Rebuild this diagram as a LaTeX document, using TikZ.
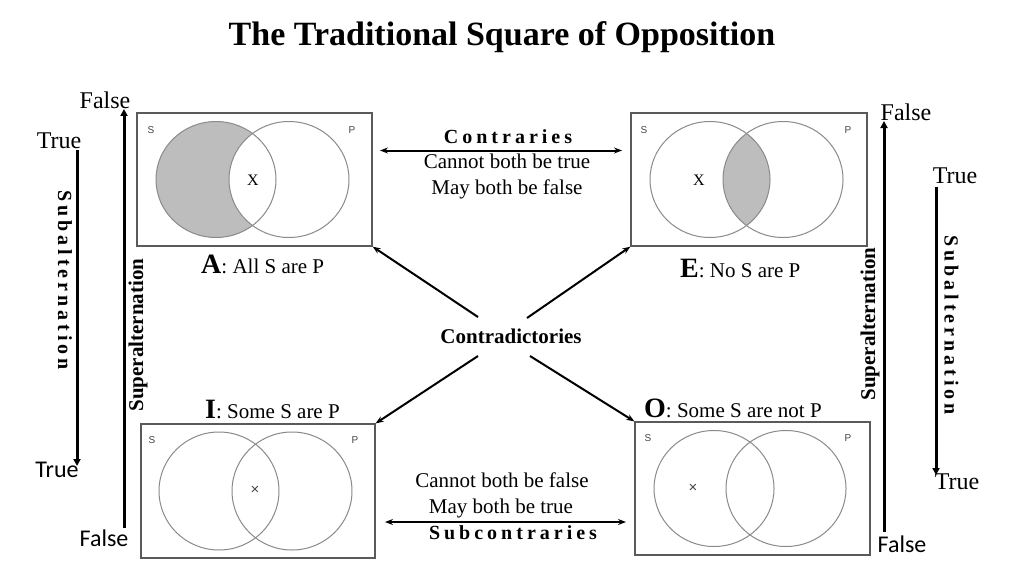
\documentclass[tikz,border=0pt]{standalone}
\usepackage{fontspec}
\setmainfont{Liberation Serif}
\newfontfamily\carl{Carlito}
\newfontfamily\arialf{Liberation Sans}
\usetikzlibrary{arrows.meta}
\makeatletter
\newcommand\spreadtext[1]{\@tfor\sp@c:=#1\do{\sp@c\hskip4pt}\unskip}
\makeatother
\definecolor{boxc}{HTML}{5A5A5A}
\definecolor{circc}{HTML}{8A8A8A}
\definecolor{shadec}{HTML}{BDBDBD}
\definecolor{slc}{HTML}{444444}
\tikzset{
  vbox/.style={draw=boxc, line width=1.2pt, minimum width=235pt, minimum height=133pt, inner sep=0pt, fill=white},
  circ/.style={draw=circc, line width=1pt},
  sp/.style={font=\arialf\fontsize{10}{10}\selectfont, text=slc, inner sep=0pt},
  bigx/.style={font=\fontsize{16}{16}\selectfont, inner sep=0pt},
  smallx/.style={font=\arialf\fontsize{15}{15}\selectfont, text=slc, inner sep=0pt},
  txt/.style={font=\fontsize{21}{25}\selectfont, inner sep=0pt, anchor=base},
  lbl/.style={font=\fontsize{21}{25}\selectfont, inner sep=0pt, anchor=base west},
  tf/.style={font=\fontsize{24}{28}\selectfont, inner sep=0pt, anchor=base},
  tfs/.style={font=\carl\fontsize{24}{28}\selectfont, inner sep=0pt, anchor=base},
  spaced/.style={font=\bfseries\fontsize{20}{24}\selectfont, inner sep=0pt},
  supert/.style={font=\bfseries\fontsize{21}{25}\selectfont, inner sep=0pt},
  dbl/.style={line width=2pt, {Stealth[length=8pt,width=6pt]}-{Stealth[length=8pt,width=6pt]}},
  carrow/.style={line width=2pt, -{Stealth[length=8pt,width=6pt]}},
  varrow/.style={line width=3pt, -{Triangle[length=7pt,width=7pt]}}
}
\begin{document}
\begin{tikzpicture}[x=1pt,y=-1pt]
\useasboundingbox[fill=white] (0,0) rectangle (1024,575);

\node[font=\bfseries\fontsize{34}{40}\selectfont, inner sep=0pt, anchor=base] (title) at (502,46) {The Traditional Square of Opposition};

% boxes
\node[vbox] (A) at (254.5,179.5) {};
\node[vbox, minimum width=236pt] (E) at (749,179.5) {};
\node[vbox, minimum width=234pt, minimum height=134pt] (I) at (258,491) {};
\node[vbox] (O) at (752.5,488.5) {};

% Venn A
\fill[shadec] (216,179.5) ellipse[x radius=60,y radius=58];
\begin{scope}
\clip (216,179.5) ellipse[x radius=60,y radius=58];
\fill[white] (289,179.5) ellipse[x radius=60,y radius=58];
\end{scope}
\draw[circ] (216,179.5) ellipse[x radius=60,y radius=58];
\draw[circ] (289,179.5) ellipse[x radius=60,y radius=58];
\node[sp] (AS) at (151,130) {S};
\node[sp] (AP) at (352,130) {P};
\node[bigx] (AX) at (253,180) {X};

% Venn E
\begin{scope}
\clip (710,179.5) ellipse[x radius=60,y radius=58];
\fill[shadec] (783,179.5) ellipse[x radius=60,y radius=58];
\end{scope}
\draw[circ] (710,179.5) ellipse[x radius=60,y radius=58];
\draw[circ] (783,179.5) ellipse[x radius=60,y radius=58];
\node[sp] (ES) at (644,130) {S};
\node[sp] (EP) at (848,130) {P};
\node[bigx] (EX) at (699,180) {X};

% Venn I
\draw[circ] (219,491) ellipse[x radius=60,y radius=59];
\draw[circ] (292,491) ellipse[x radius=60,y radius=59];
\node[sp] (IS) at (152,440) {S};
\node[sp] (IP) at (355,440) {P};
\node[smallx] (IX) at (255,490) {×};

% Venn O
\draw[circ] (714,488.5) ellipse[x radius=60,y radius=58];
\draw[circ] (786,488.5) ellipse[x radius=60,y radius=58];
\node[sp] (OS) at (648,438) {S};
\node[sp] (OP) at (848,438) {P};
\node[smallx] (OX) at (693,488) {×};

% corner labels
\node[lbl] (Alab) at (201,273) {{\bfseries\fontsize{28}{28}\selectfont A}: All S are P};
\node[lbl] (Elab) at (680,277) {{\bfseries\fontsize{28}{28}\selectfont E}: No S are P};
\node[lbl] (Ilab) at (205,418) {{\bfseries\fontsize{28}{28}\selectfont I}: Some S are P};
\node[lbl] (Olab) at (644,417) {{\bfseries\fontsize{28}{28}\selectfont O}: Some S are not P};

% contraries
\node[spaced, anchor=base] (contr) at (508,143) {\spreadtext{Contraries}};
\coordinate (ca1) at (380,150.5);
\coordinate (ca2) at (622,150.5);
\draw[dbl] (ca1) -- (ca2);
\node[txt] (c1t) at (507,168) {Cannot both be true};
\node[txt] (c2t) at (507,194) {May both be false};

% contradictories
\node[txt, font=\bfseries\fontsize{21}{25}\selectfont] (cd) at (511,343) {Contradictories};
\coordinate (k1) at (478,317);
\coordinate (k2) at (527,318);
\coordinate (k3) at (478,356);
\coordinate (k4) at (530,356);
\draw[carrow] (k1) -- (A.south east);
\draw[carrow] (k2) -- (E.south west);
\draw[carrow] (k3) -- (I.north east);
\draw[carrow] (k4) -- (O.north west);

% subcontraries
\node[txt] (s1t) at (502,487) {Cannot both be false};
\node[txt] (s2t) at (501,513) {May both be true};
\coordinate (sc1) at (385,522);
\coordinate (sc2) at (626,522);
\draw[dbl] (sc1) -- (sc2);
\node[spaced, anchor=base] (subc) at (513,539) {\spreadtext{Subcontraries}};

% left side
\node[tf] (LF1) at (105,109) {False};
\node[tf] (LT1) at (59,148) {True};
\node[tfs] (LT2) at (57,477) {True};
\node[tfs] (LF2) at (104,546) {False};
\coordinate (lu1) at (124,528);
\coordinate (lu2) at (124,109);
\coordinate (ld1) at (77,150);
\coordinate (ld2) at (77,466);
\draw[varrow] (lu1) -- (lu2);
\draw[varrow] (ld1) -- (ld2);
\node[spaced, rotate=-90] (subL) at (65,280) {\spreadtext{Subalternation}};
\node[supert, rotate=90] (supL) at (138,335) {Superalternation};

% right side
\node[tf] (RF1) at (906,121) {False};
\node[tf] (RT1) at (955,183) {True};
\node[tf] (RT2) at (957,489) {True};
\node[tfs] (RF2) at (902,552) {False};
\coordinate (ru1) at (884,532);
\coordinate (ru2) at (884,121);
\coordinate (rd1) at (936,187);
\coordinate (rd2) at (936,475);
\draw[varrow] (ru1) -- (ru2);
\draw[varrow] (rd1) -- (rd2);
\node[spaced, rotate=-90] (subR) at (951.5,325) {\spreadtext{Subalternation}};
\node[supert, rotate=90] (supR) at (870,324) {Superalternation};
\end{tikzpicture}
\end{document}
